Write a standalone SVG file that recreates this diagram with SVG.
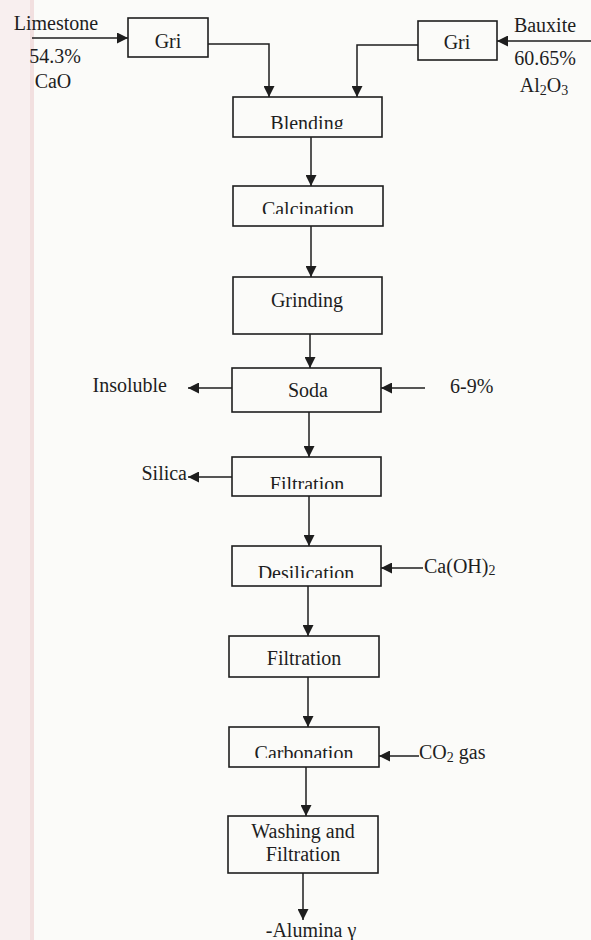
<svg xmlns="http://www.w3.org/2000/svg" width="591" height="940" viewBox="0 0 591 940" font-family="'Liberation Serif', 'Times New Roman', serif">
<style>
.box{fill:none;stroke:#1e1e1e;stroke-width:1.6}
.ln{fill:none;stroke:#1e1e1e;stroke-width:1.5}
.arr{marker-end:url(#ah)}
.t{font-family:"Liberation Serif","Times New Roman",serif;font-size:20px;fill:#1e1e1e}
.c{text-anchor:middle}
.e{text-anchor:end}
</style>
<defs>
<marker id="ah" viewBox="0 0 10 10" refX="10" refY="5" markerWidth="11" markerHeight="11" markerUnits="userSpaceOnUse" orient="auto">
<path d="M0,0 L10,5 L0,10 z" fill="#1e1e1e"/>
</marker>
<clipPath id="cBl"><rect x="233" y="97" width="149" height="32"/></clipPath>
<clipPath id="cCa"><rect x="233" y="186" width="150" height="28"/></clipPath>
<clipPath id="cFi"><rect x="232" y="457" width="149" height="32"/></clipPath>
<clipPath id="cDe"><rect x="232" y="546" width="149" height="32"/></clipPath>
<clipPath id="cCb"><rect x="229" y="727" width="150" height="31"/></clipPath>
</defs>
<rect x="0" y="0" width="591" height="940" fill="#fbfbf9"/>
<rect x="0" y="0" width="33" height="940" fill="#f8efef"/>
<rect x="30" y="0" width="4" height="940" fill="#f2e0e0"/>

<g id="connectors">
<line class="ln arr" x1="32" y1="38" x2="128" y2="38"/>
<line class="ln arr" x1="591" y1="41" x2="497" y2="41"/>
<path class="ln arr" d="M208,44 H269 V97"/>
<path class="ln arr" d="M418,45 H357 V97"/>
<line class="ln arr" x1="311" y1="137" x2="311" y2="186"/>
<line class="ln arr" x1="311" y1="226" x2="311" y2="277"/>
<line class="ln arr" x1="310" y1="334" x2="310" y2="368"/>
<line class="ln arr" x1="232" y1="388" x2="188" y2="388"/>
<line class="ln arr" x1="425" y1="388" x2="381" y2="388"/>
<line class="ln arr" x1="309" y1="412" x2="309" y2="457"/>
<line class="ln arr" x1="232" y1="477" x2="188" y2="477"/>
<line class="ln arr" x1="309" y1="496" x2="309" y2="546"/>
<line class="ln arr" x1="423" y1="568" x2="381" y2="568"/>
<line class="ln arr" x1="308" y1="586" x2="308" y2="636"/>
<line class="ln arr" x1="308" y1="677" x2="308" y2="727"/>
<line class="ln arr" x1="419" y1="756" x2="379" y2="756"/>
<line class="ln arr" x1="306" y1="767" x2="306" y2="816"/>
<line class="ln arr" x1="303" y1="873" x2="303" y2="920"/>
</g>

<g id="limestone">
<text class="t c" x="56" y="30">Limestone</text>
<text class="t c" x="55" y="63">54.3%</text>
<text class="t c" x="53" y="88">CaO</text>
</g>
<g id="bauxite">
<text class="t c" x="545" y="32">Bauxite</text>
<text class="t c" x="545" y="65">60.65%</text>
<text class="t c" x="544" y="92">Al<tspan font-size="14" dy="3">2</tspan><tspan dy="-3">O</tspan><tspan font-size="14" dy="3">3</tspan></text>
</g>
<g id="gri-left">
<rect class="box" x="128" y="18" width="80" height="39"/>
<text class="t c" x="168" y="48">Gri</text>
</g>
<g id="gri-right">
<rect class="box" x="418" y="21" width="79" height="39"/>
<text class="t c" x="457" y="49">Gri</text>
</g>
<g id="blending">
<rect class="box" x="233" y="97" width="149" height="40"/>
<text class="t c" x="307" y="130" clip-path="url(#cBl)">Blending</text>
</g>
<g id="calcination">
<rect class="box" x="233" y="186" width="150" height="40"/>
<text class="t c" x="308" y="216" clip-path="url(#cCa)">Calcination</text>
</g>
<g id="grinding">
<rect class="box" x="233" y="277" width="149" height="57"/>
<text class="t c" x="307" y="307">Grinding</text>
</g>
<g id="soda">
<rect class="box" x="232" y="368" width="149" height="44"/>
<text class="t c" x="308" y="397">Soda</text>
</g>
<g id="insoluble"><text class="t e" x="167" y="392">Insoluble</text></g>
<g id="soda-input"><text class="t" x="450" y="393">6-9%</text></g>
<g id="filtration1">
<rect class="box" x="232" y="457" width="149" height="39"/>
<text class="t c" x="307" y="491" clip-path="url(#cFi)">Filtration</text>
</g>
<g id="silica"><text class="t e" x="187" y="480">Silica</text></g>
<g id="desilication">
<rect class="box" x="232" y="546" width="149" height="40"/>
<text class="t c" x="306" y="580" clip-path="url(#cDe)">Desilication</text>
</g>
<g id="caoh2"><text class="t" x="424" y="573">Ca(OH)<tspan font-size="14" dy="2">2</tspan></text></g>
<g id="filtration2">
<rect class="box" x="229" y="636" width="150" height="41"/>
<text class="t c" x="304" y="665">Filtration</text>
</g>
<g id="carbonation">
<rect class="box" x="229" y="727" width="150" height="40"/>
<text class="t c" x="304" y="760" clip-path="url(#cCb)">Carbonation</text>
</g>
<g id="co2"><text class="t" x="419" y="759">CO<tspan font-size="14" dy="3">2</tspan><tspan dy="-3"> gas</tspan></text></g>
<g id="washing">
<rect class="box" x="228" y="816" width="150" height="57"/>
<text class="t c" x="303" y="838">Washing and</text>
<text class="t c" x="303" y="861">Filtration</text>
</g>
<g id="alumina"><text class="t c" x="311" y="937">-Alumina γ</text></g>
</svg>
